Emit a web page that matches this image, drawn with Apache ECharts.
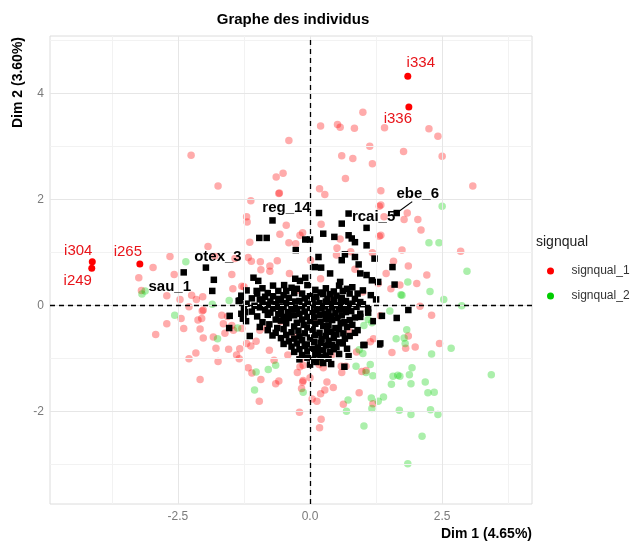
<!DOCTYPE html>
<html>
<head>
<meta charset="utf-8">
<script src="https://cdn.jsdelivr.net/npm/echarts@6/dist/echarts.min.js"></script>
<style>html,body{margin:0;padding:0;background:#fff;}#c{width:631px;height:541px;}</style>
</head>
<body>
<div id="c"></div>
<script>
// ---- data ----
const xTicks = [-2.5, 0, 2.5];
const yTicks = [-2, 0, 2, 4];
const xMinorLines = [-3.75, -1.25, 1.25, 3.75];
const yMinorLines = [-3, -1, 1, 3, 5];

const signqual1 = [
[-2.25,2.83],[-1.74,2.25],[-0.64,2.42],[-0.51,2.49],[-0.59,2.11],[-0.4,3.11],[-1.12,1.97],
[0.2,3.38],[0.52,3.41],[0.57,3.36],[0.84,3.34],[1.0,3.64],[1.41,3.35],[2.25,3.33],[2.42,3.19],
[1.13,3.0],[0.6,2.82],[0.81,2.77],[1.18,2.67],[1.77,2.9],[2.5,2.81],[0.67,2.39],[0.18,2.2],
[0.28,2.09],[1.34,2.16],[3.08,2.25],[-0.58,2.12],
[1.31,1.87],[1.4,1.67],[1.78,1.62],[1.84,1.74],[2.04,1.62],[2.1,1.42],[1.34,1.32],[1.31,1.3],
[0.21,1.53],[-0.14,1.37],[-0.27,1.16],[0.57,1.25],[0.51,1.08],[0.77,1.01],[1.18,0.99],[1.74,1.04],
[0.85,0.68],[1.58,0.83],[1.44,0.6],[1.86,0.74],[2.21,0.57],[2.85,1.02],[1.53,0.31],[1.7,0.38],
[2.02,0.41],[2.08,-0.02],[2.3,-0.19],[1.86,-0.58],[1.99,-0.79],[1.29,0.41],[0.01,0.85],[1.33,-0.2],
[1.14,-0.69],[2.45,-0.72],[1.34,1.89],
[1.55,-0.89],[1.81,-0.81],[-0.24,-1.27],[-0.13,-1.13],[-0.14,-1.45],[-0.16,-1.57],[0,-1.37],
[0.25,-1.18],[0.17,-1.12],[0.6,-1.27],[0.59,-1.15],[0.68,-1.15],[0.32,-1.45],[0.44,-1.55],
[0.28,-1.6],[0.2,-1.67],[0.04,-1.77],[0.13,-1.81],[0.63,-1.87],[0.93,-1.65],[1.19,-1.86],
[1.06,-1.23],[-0.2,-2.02],[0.21,-2.15],[0.18,-2.31],[-0.18,-1.01],[1.2,-0.63],[0.09,-0.31],
[0.98,-1.25],[0.88,-0.88],[0.41,-0.94],[0.19,-1.07],
[-2.29,-1.01],[-2.16,-0.9],[-2.08,-1.4],[-1.78,-0.81],[-1.74,-1.06],[-1.54,-0.83],[-1.39,-0.94],
[-1.34,-1.01],[-1.33,-0.82],[-1.2,-0.72],[-1.12,-0.77],[-1.02,-0.68],[-1.17,-1.18],[-1.1,-1.28],
[-0.77,-0.85],[-0.68,-1.04],[-0.42,-0.94],[-0.93,-1.4],[-0.65,-1.48],[-0.59,-1.43],[-0.96,-1.81],
[-2.02,-0.09],[-2.12,-0.28],[-1.67,-0.19],[-1.64,-0.35],[-1.45,-0.47],[-2.02,-0.62],[-0.82,-0.44],
[-0.95,-0.47],[-0.19,-1.16],[-0.13,-1.42],
[-2.97,0.71],[-3.24,0.52],[-3.19,0.28],[-2.65,0.92],[-2.57,0.58],[-2.71,0.18],[-2.46,0.11],
[-2.24,0.19],[-2.15,0.11],[-2.04,-0.11],[-2.29,-0.03],[-2.44,-0.25],[-2.71,-0.35],[-2.92,-0.55],
[-2.39,-0.44],[-2.05,-0.25],[-2.08,-0.45],[-1.93,1.11],[-1.8,0.93],[-1.56,-0.21],[-1.48,-0.38],
[-1.61,-0.53],[-1.83,-0.6],[-1.29,-0.44],[-1.14,1.19],[-1.2,1.67],[-1.19,1.57],[-0.57,1.34],
[-0.4,1.18],[-1.17,0.9],[-1.11,0.83],[-0.94,0.82],[-0.76,0.64],[-0.76,0.74],[-0.62,0.84],
[-1.25,0.35],[-1.48,0.58],[-0.45,1.51],[-0.19,1.32],[-1.42,0.88],[-0.93,0.67],[-0.39,0.6],
[-1.29,0.36],[-1.46,0.31],[-2.03,0.16],
[-0.25,0.28],[0.4,0.15],[-0.55,-0.3],[0.75,-0.5],[0.5,0.95],[1.0,0.25],[-0.3,-0.6],[0.2,0.5]
];

const signqual2 = [
[-2.35,0.82],[-3.18,0.21],[-3.12,0.27],[-1.85,0.02],[-2.56,-0.19],[-1.75,-0.63],[-1.37,-0.43],
[-1.53,0.09],[-1.02,-1.26],[-0.79,-1.21],[-0.65,-1.13],[-1.05,-1.6],[-0.13,-1.64],
[2.5,1.87],[2.25,1.18],[2.44,1.18],[2.97,0.64],[1.85,0.44],[1.72,0.2],[2.27,0.26],[2.53,0.11],
[2.87,-0.01],[1.51,-0.11],[1.1,-0.27],[1.02,-0.38],[1.17,-0.33],[1.83,-0.46],[1.63,-0.63],
[1.78,-0.62],[2.67,-0.81],[2.3,-0.92],[0.87,-1.15],[1.14,-1.12],[1.06,-1.27],[1.19,-1.33],
[1.0,-0.91],[0.22,-1.07],[1.57,-1.34],[1.66,-1.32],[1.7,-1.34],[1.88,-1.31],[1.93,-1.18],
[1.54,-1.49],[1.91,-1.48],[2.18,-1.45],[2.23,-1.65],[2.35,-1.64],[3.43,-1.31],[0.72,-1.79],
[0.69,-2.0],[1.29,-1.81],[1.39,-1.73],[1.16,-1.75],[1.17,-1.95],[1.69,-1.98],[1.91,-2.06],
[2.28,-1.97],[2.42,-2.06],[1.02,-2.28],[2.12,-2.47],[1.85,-2.99],[0.93,-0.84],[1.74,0.19],[1.8,-0.72]
];

const supPoints = [
[0.17,1.74],[0.6,1.54],[1.07,1.46],[0.25,1.35],[0.46,1.29],[0.73,1.32],[-0.96,1.27],[-0.82,1.27],
[-0.09,1.24],[0.0,1.24],[0.79,1.26],[0.85,1.19],[1.07,1.13],[-0.27,1.04],[0.66,0.96],[0.16,0.91],
[0.85,0.91],[1.22,0.88],[0.6,0.85],[0.92,0.77],[0.09,0.72],[0.21,0.71],[1.56,0.72],[0.38,0.6],
[0.95,0.6],[1.07,0.57],[-1.07,0.52],[-0.09,0.52],[-0.28,0.5],[-1.82,0.48],[1.17,0.47],[-0.98,0.46],
[-0.19,0.46],[0.57,0.44],[1.29,0.44],[1.6,0.39],[-0.49,0.38],[-1.85,0.27],[-1.01,0.27],
[-0.7,0.37],[-0.35,0.33],[-0.05,0.38],[0.3,0.32],[0.55,0.37],[0.8,0.34],
[-1.2,0.28],[-0.9,0.32],[-0.6,0.27],[-0.25,0.31],[0.1,0.29],[0.45,0.26],[0.7,0.31],[1.0,0.28],
[-0.8,0.23],[-0.45,0.27],[-0.15,0.22],[0.2,0.24],[0.38,0.21],[0.62,0.27],[0.9,0.22],
[-1.3,0.18],[-1.0,0.22],[-0.7,0.17],[-0.5,0.19],[-0.3,0.23],[0.0,0.17],[0.25,0.21],[0.5,0.18],[0.75,0.22],[1.15,0.19],
[-1.1,0.13],[-0.85,0.16],[-0.6,0.12],[-0.4,0.14],[-0.1,0.13],[0.12,0.16],[0.33,0.12],[0.6,0.14],[0.85,0.12],
[-1.35,0.08],[-0.95,0.11],[-0.75,0.07],[-0.55,0.09],[-0.2,0.08],[0.05,0.12],[0.3,0.07],[0.45,0.1],[0.68,0.08],[0.95,0.06],[1.25,0.11],
[-1.2,0.03],[-0.9,0.06],[-0.65,0.02],[-0.45,0.04],[-0.28,0.07],[-0.05,0.03],[0.18,0.04],[0.4,0.02],[0.58,0.06],[0.8,0.03],
[-1.05,-0.01],[-0.8,0.01],[-0.6,-0.03],[-0.35,0.0],[-0.15,-0.02],[0.1,0.01],[0.28,-0.02],[0.5,0.0],[0.72,-0.01],[1.0,0.02],
[-1.25,-0.07],[-0.95,-0.04],[-0.7,-0.06],[-0.5,-0.03],[-0.25,-0.07],[0.0,-0.05],[0.22,-0.06],[0.42,-0.04],[0.62,-0.07],[0.88,-0.03],[1.1,-0.06],
[-1.1,-0.12],[-0.85,-0.09],[-0.55,-0.11],[-0.35,-0.08],[-0.1,-0.12],[0.12,-0.09],[0.35,-0.12],[0.55,-0.08],[0.78,-0.11],
[-1.3,-0.16],[-0.75,-0.14],[-0.6,-0.17],[-0.42,-0.13],[-0.2,-0.16],[0.05,-0.14],[0.28,-0.17],[0.48,-0.15],[0.68,-0.13],[0.95,-0.16],
[-1.0,-0.21],[-0.8,-0.18],[-0.5,-0.22],[-0.3,-0.19],[-0.05,-0.22],[0.18,-0.18],[0.4,-0.21],[0.6,-0.19],[0.85,-0.23],
[-1.27,-0.25],[-0.65,-0.27],[-0.4,-0.24],[-0.15,-0.27],[0.08,-0.23],[0.3,-0.26],[0.52,-0.24],[0.75,-0.28],
[-1.21,-0.3],[-0.9,-0.32],[-0.55,-0.29],[-0.25,-0.33],[0.0,-0.3],[0.2,-0.31],[0.42,-0.28],[0.65,-0.32],[1.2,-0.3],
[-0.77,-0.36],[-0.45,-0.34],[-0.12,-0.37],[0.1,-0.35],[0.35,-0.38],[0.58,-0.34],[0.8,-0.37],
[-0.95,-0.41],[-0.62,-0.43],[-0.3,-0.4],[-0.05,-0.42],[0.25,-0.39],[0.48,-0.43],[0.7,-0.41],
[-0.8,-0.47],[-0.5,-0.45],[-0.22,-0.48],[0.05,-0.46],[0.32,-0.49],[0.55,-0.45],[0.9,-0.47],
[-0.65,-0.52],[-0.35,-0.51],[-0.1,-0.53],[0.18,-0.52],[0.4,-0.5],[0.63,-0.53],
[-0.71,-0.57],[-0.45,-0.56],[-0.2,-0.59],[0.1,-0.56],[0.3,-0.58],[0.5,-0.55],[0.75,-0.58],
[-0.55,-0.62],[-0.3,-0.63],[0.0,-0.61],[0.22,-0.64],[0.45,-0.62],[0.66,-0.63],
[-0.4,-0.68],[-0.15,-0.66],[0.08,-0.69],[0.35,-0.67],[0.55,-0.7],
[-0.5,-0.73],[-0.25,-0.72],[-0.05,-0.74],[0.2,-0.71],[0.42,-0.75],[0.62,-0.72],
[-0.35,-0.78],[-0.1,-0.77],[0.15,-0.8],[0.3,-0.76],[0.5,-0.79],[1.01,-0.75],
[-0.2,-0.83],[0.05,-0.82],[0.25,-0.85],[0.45,-0.83],[0.7,-0.82],
[-0.3,-0.88],[-0.05,-0.87],[0.15,-0.9],[0.38,-0.88],
[-0.15,-0.94],[0.1,-0.93],[0.3,-0.95],[0.55,-0.92],
[-0.05,-0.99],[0.2,-0.98],[0.73,-0.96],
[-0.2,-1.02],[0.05,-1.03],[0.35,-1.01],[0.12,-1.07],[0.25,-1.09],[0.0,-1.12],[0.4,-1.11],
[1.86,-0.09],[1.36,-0.2],[1.64,-0.24],[1.1,-0.14],[0.95,-0.22],[0.85,-0.52],[1.33,-0.72],
[1.03,-0.75],[0.65,-1.16],[-1.52,-0.2],[-1.53,-0.43],[-1.14,-0.58],[-1.29,0.16],[-1.26,-0.25],
[-1.23,-0.13],[-1.33,0.09],[1.31,-0.74]
];

const labelledRed = [
  {name: 'i334', value: [1.85, 4.32]},
  {name: 'i336', value: [1.87, 3.74]},
  {name: 'i304', value: [-4.12, 0.82]},
  {name: 'i249', value: [-4.13, 0.70]},
  {name: 'i265', value: [-3.22, 0.78]}
];
const labelledSup = [
  {name: 'sau_1', value: [-2.39, 0.62]},
  {name: 'otex_3', value: [-1.97, 0.71]},
  {name: 'reg_14', value: [-0.71, 1.6]},
  {name: 'rcai_5', value: [0.73, 1.73]},
  {name: 'ebe_6', value: [1.64, 1.74]}
];

// ---- style / layout config ----
const labelOffsets = {
  i334: [13, -13], i336: [-11, 12], i304: [-14, -11], i249: [-14, 13], i265: [-12, -12],
  sau_1: [-14, 14], otex_3: [12, -11], reg_14: [14, -13], rcai_5: [25, 3], ebe_6: [21, -19]
};
const connectorFor = 'ebe_6';
const FONT = '"Liberation Sans", Arial, sans-serif';

function withOffsets(arr) {
  return arr.map(d => ({name: d.name, value: d.value, label: {offset: labelOffsets[d.name] || [0, 0]}}));
}
function vLines(vals) { return vals.map(v => ({xAxis: v})); }
function hLines(vals) { return vals.map(v => ({yAxis: v})); }

const chart = echarts.init(document.getElementById('c'), null, {renderer: 'canvas'});
const baseGraphics = [
  {type: 'text', x: 293, y: 20, style: {text: 'Graphe des individus', font: 'bold 15px ' + FONT, fill: '#000', textAlign: 'center', textVerticalAlign: 'middle'}},
  {type: 'text', x: 532, y: 534, style: {text: 'Dim 1 (4.65%)', font: 'bold 14px ' + FONT, fill: '#000', textAlign: 'right', textVerticalAlign: 'middle'}},
  {type: 'text', x: 18, y: 37, rotation: Math.PI / 2, style: {text: 'Dim 2 (3.60%)', font: 'bold 14px ' + FONT, fill: '#000', textAlign: 'right', textVerticalAlign: 'middle'}},
  {type: 'text', x: 536, y: 242, style: {text: 'signqual', font: '14px ' + FONT, fill: '#222', textVerticalAlign: 'middle'}}
];
chart.setOption({
  animation: false,
  backgroundColor: '#ffffff',
  textStyle: {fontFamily: FONT},
  grid: {left: 50, right: 99, top: 36, bottom: 37, show: true, borderColor: '#dcdcdc', borderWidth: 1, backgroundColor: 'transparent'},
  xAxis: {
    type: 'value', min: -4.92, max: 4.2,
    axisLine: {show: false}, axisTick: {show: false}, splitLine: {show: false},
    axisLabel: {customValues: xTicks, formatter: v => v.toFixed(1), color: '#7a7a7a', fontSize: 12, margin: 7, fontFamily: FONT}
  },
  yAxis: {
    type: 'value', min: -3.75, max: 5.08,
    axisLine: {show: false}, axisTick: {show: false}, splitLine: {show: false},
    axisLabel: {customValues: yTicks, formatter: v => String(v), color: '#7a7a7a', fontSize: 12, margin: 6, fontFamily: FONT}
  },
  legend: {
    orient: 'vertical', left: 542, top: 258, icon: 'circle',
    itemWidth: 32, itemHeight: 7, itemGap: 9,
    textStyle: {fontSize: 12, color: '#333', lineHeight: 16, fontFamily: FONT},
    data: [
      {name: 'signqual_1', itemStyle: {color: '#ff0000', opacity: 1}},
      {name: 'signqual_2', itemStyle: {color: '#00cd00', opacity: 1}}
    ]
  },
  graphic: baseGraphics,
  series: [
    {
      type: 'line', data: [], silent: true, z: 1,
      markLine: {silent: true, symbol: 'none', label: {show: false}, animation: false,
        lineStyle: {color: '#f2f2f2', width: 1, type: 'solid'},
        data: vLines(xMinorLines).concat(hLines(yMinorLines))}
    },
    {
      type: 'line', data: [], silent: true, z: 1,
      markLine: {silent: true, symbol: 'none', label: {show: false}, animation: false,
        lineStyle: {color: '#e6e6e6', width: 1, type: 'solid'},
        data: vLines(xTicks).concat(hLines(yTicks))}
    },
    {
      name: 'signqual_1', type: 'scatter', data: signqual1, symbol: 'circle', symbolSize: 7.5, z: 2,
      itemStyle: {color: 'rgba(255,0,0,0.33)', opacity: 1}, silent: true
    },
    {
      name: 'signqual_2', type: 'scatter', data: signqual2, symbol: 'circle', symbolSize: 7.5, z: 2,
      itemStyle: {color: 'rgba(0,205,0,0.33)', opacity: 1}, silent: true
    },
    {
      type: 'line', data: [], silent: true, z: 3,
      markLine: {silent: true, symbol: 'none', label: {show: false}, animation: false,
        lineStyle: {color: '#000', width: 1.3, type: [5, 4]},
        data: [{xAxis: 0}, {yAxis: 0}]}
    },
    {
      type: 'scatter', data: supPoints, symbol: 'rect', symbolSize: 6.5, z: 4,
      itemStyle: {color: '#000', opacity: 1}, silent: true
    },
    {
      type: 'scatter', data: withOffsets(labelledSup), symbol: 'rect', symbolSize: 6.5, z: 5,
      itemStyle: {color: '#000', opacity: 1}, silent: true,
      label: {show: true, position: 'inside', formatter: '{b}', color: '#000', fontSize: 15, fontWeight: 'bold', fontFamily: FONT}
    },
    {
      type: 'scatter', data: withOffsets(labelledRed), symbol: 'circle', symbolSize: 7, z: 5,
      itemStyle: {color: '#ff0000', opacity: 1}, silent: true,
      label: {show: true, position: 'inside', formatter: '{b}', color: '#e8141a', fontSize: 15, fontFamily: FONT}
    }
  ]
});

// ggrepel-style segment from the point toward its displaced label
const pt = labelledSup.find(d => d.name === connectorFor);
const p = chart.convertToPixel({gridIndex: 0}, pt.value);
const off = labelOffsets[connectorFor];
chart.setOption({
  graphic: baseGraphics.concat([{
    type: 'line', z: 10, silent: true,
    shape: {x1: p[0], y1: p[1], x2: p[0] + off[0] * 0.74, y2: p[1] + off[1] * 0.6},
    style: {stroke: '#000', lineWidth: 1.2}
  }])
});
</script>
</body>
</html>
